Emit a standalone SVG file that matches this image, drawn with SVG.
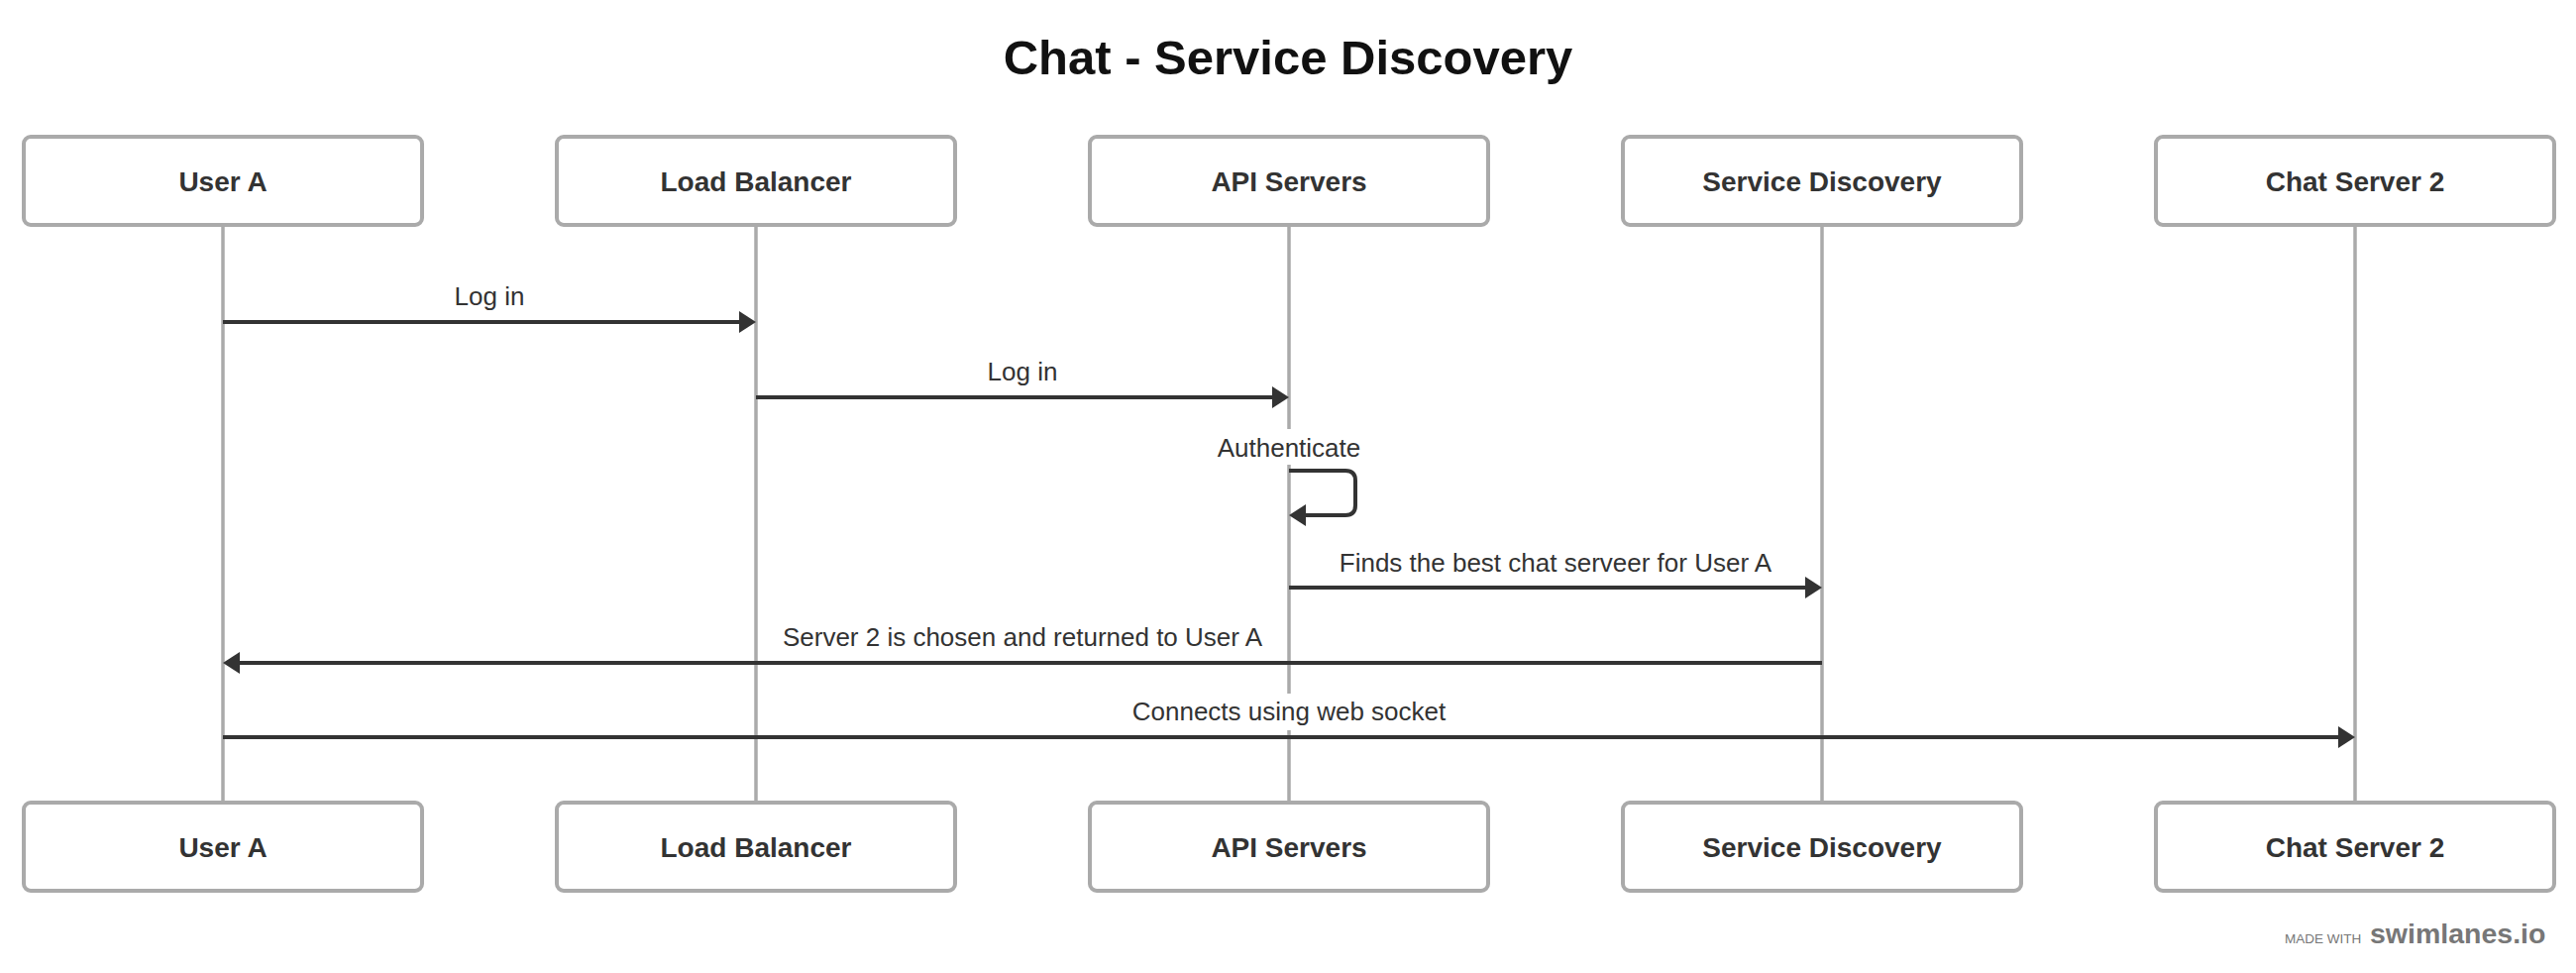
<svg xmlns="http://www.w3.org/2000/svg" width="2600" height="982" viewBox="0 0 2600 982">
<style>
.title{font-family:"Liberation Sans",Arial,sans-serif;font-weight:bold;font-size:49px;fill:#111;text-anchor:middle}
.box{fill:#fff;stroke:#aaa;stroke-width:4}
.blabel{font-family:"Liberation Sans",Arial,sans-serif;font-weight:bold;font-size:28px;fill:#333;text-anchor:middle}
.life{stroke:#aaa;stroke-width:3.5;fill:none}
.msg{stroke:#333;stroke-width:4;fill:none;marker-end:url(#arrow)}
.mlabel{font-family:"Liberation Sans",Arial,sans-serif;font-size:26px;fill:#333;text-anchor:middle}
.lbg{fill:#fff}
.wm1{font-family:"Liberation Sans",Arial,sans-serif;font-size:13.5px;fill:#777}
.wm2{font-family:"Liberation Sans",Arial,sans-serif;font-weight:bold;font-size:28.5px;fill:#777}
</style>
<defs>
<marker id="arrow" markerUnits="userSpaceOnUse" markerWidth="18" markerHeight="22" refX="1" refY="11" orient="auto" viewBox="0 0 18 22">
<path d="M0 0 L17 11 L0 22 Z" fill="#333"/>
</marker>
</defs>
<rect width="2600" height="982" fill="#fff"/>
<text class="title" x="1300" y="75">Chat - Service Discovery</text>

<g id="lifelines">
<line class="life" x1="225" y1="229" x2="225" y2="808"/>
<line class="life" x1="763" y1="229" x2="763" y2="808"/>
<line class="life" x1="1301" y1="229" x2="1301" y2="808"/>
<line class="life" x1="1839" y1="229" x2="1839" y2="808"/>
<line class="life" x1="2377" y1="229" x2="2377" y2="808"/>
</g>

<g id="user-a">
<rect class="box" x="24" y="138" width="402" height="89" rx="7"/>
<text class="blabel" x="225" y="193">User A</text>
<rect class="box" x="24" y="810" width="402" height="89" rx="7"/>
<text class="blabel" x="225" y="865">User A</text>
</g>
<g id="load-balancer">
<rect class="box" x="562" y="138" width="402" height="89" rx="7"/>
<text class="blabel" x="763" y="193">Load Balancer</text>
<rect class="box" x="562" y="810" width="402" height="89" rx="7"/>
<text class="blabel" x="763" y="865">Load Balancer</text>
</g>
<g id="api-servers">
<rect class="box" x="1100" y="138" width="402" height="89" rx="7"/>
<text class="blabel" x="1301" y="193">API Servers</text>
<rect class="box" x="1100" y="810" width="402" height="89" rx="7"/>
<text class="blabel" x="1301" y="865">API Servers</text>
</g>
<g id="service-discovery">
<rect class="box" x="1638" y="138" width="402" height="89" rx="7"/>
<text class="blabel" x="1839" y="193">Service Discovery</text>
<rect class="box" x="1638" y="810" width="402" height="89" rx="7"/>
<text class="blabel" x="1839" y="865">Service Discovery</text>
</g>
<g id="chat-server-2">
<rect class="box" x="2176" y="138" width="402" height="89" rx="7"/>
<text class="blabel" x="2377" y="193">Chat Server 2</text>
<rect class="box" x="2176" y="810" width="402" height="89" rx="7"/>
<text class="blabel" x="2377" y="865">Chat Server 2</text>
</g>

<g id="connectors">
<line class="msg" x1="225" y1="325" x2="747" y2="325"/>
<text class="mlabel" x="494" y="308">Log in</text>

<line class="msg" x1="763" y1="401" x2="1285" y2="401"/>
<text class="mlabel" x="1032" y="384">Log in</text>

<rect class="lbg" x="1222" y="433" width="158" height="36"/>
<text class="mlabel" x="1301" y="461">Authenticate</text>
<path class="msg" d="M1301 475 H1358 Q1368 475 1368 485 V510 Q1368 520 1358 520 H1317"/>

<line class="msg" x1="1301" y1="593" x2="1823" y2="593"/>
<text class="mlabel" x="1570" y="577">Finds the best chat serveer for User A</text>

<line class="msg" x1="1839" y1="669" x2="241" y2="669"/>
<text class="mlabel" x="1032" y="652">Server 2 is chosen and returned to User A</text>

<rect class="lbg" x="1141" y="700" width="320" height="37"/>
<line class="msg" x1="225" y1="744" x2="2361" y2="744"/>
<text class="mlabel" x="1301" y="727">Connects using web socket</text>
</g>

<g id="watermark">
<text class="wm1" x="2306" y="952">MADE WITH</text>
<text class="wm2" x="2392" y="952">swimlanes.io</text>
</g>
</svg>
